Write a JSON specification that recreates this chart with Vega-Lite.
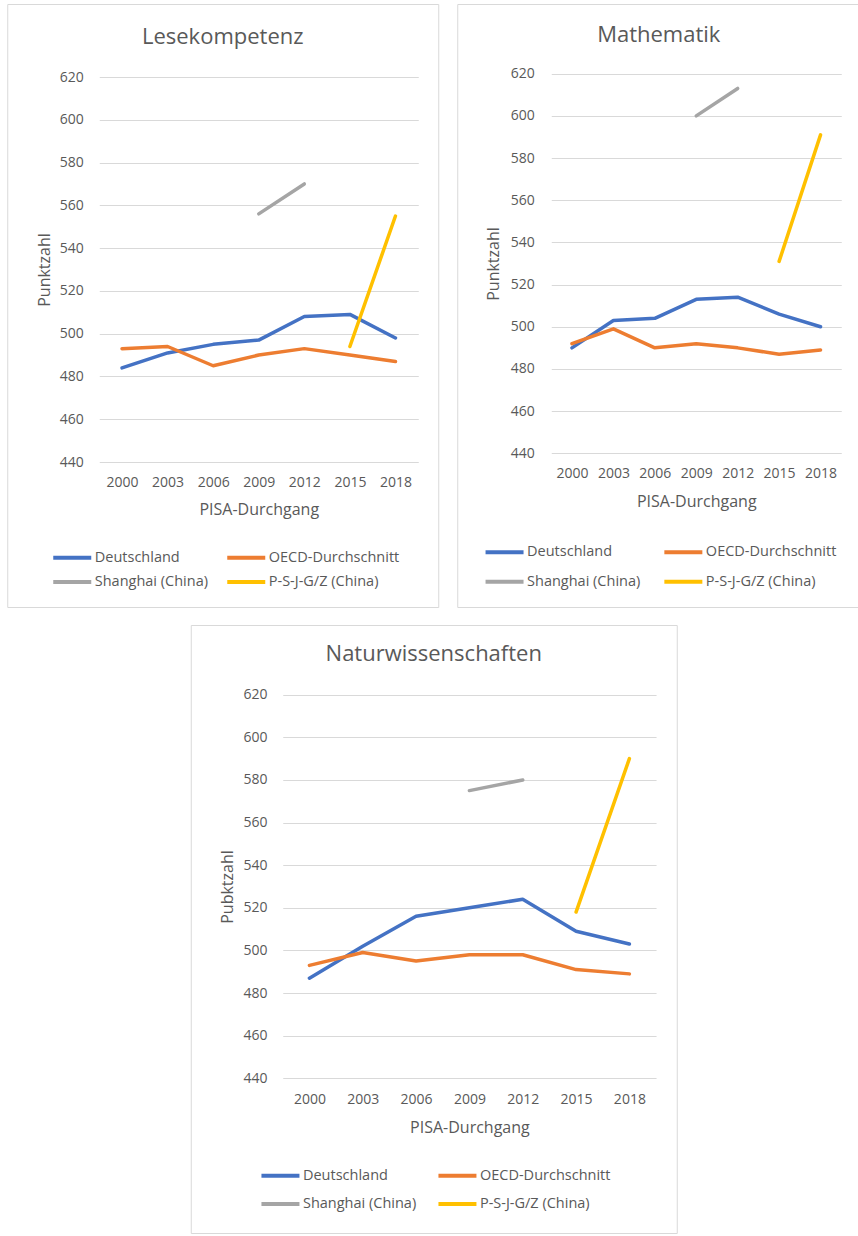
{
  "$schema": "https://vega.github.io/schema/vega-lite/v6.json",
  "padding": {"left": 6, "top": 3, "right": 0, "bottom": 0},
  "background": "white",
  "data": {"values": [
    {"fach": "Lesekompetenz", "jahr": "2000", "land": "Deutschland", "wert": 484},
    {"fach": "Lesekompetenz", "jahr": "2003", "land": "Deutschland", "wert": 491},
    {"fach": "Lesekompetenz", "jahr": "2006", "land": "Deutschland", "wert": 495},
    {"fach": "Lesekompetenz", "jahr": "2009", "land": "Deutschland", "wert": 497},
    {"fach": "Lesekompetenz", "jahr": "2012", "land": "Deutschland", "wert": 508},
    {"fach": "Lesekompetenz", "jahr": "2015", "land": "Deutschland", "wert": 509},
    {"fach": "Lesekompetenz", "jahr": "2018", "land": "Deutschland", "wert": 498},
    {"fach": "Lesekompetenz", "jahr": "2000", "land": "OECD-Durchschnitt", "wert": 493},
    {"fach": "Lesekompetenz", "jahr": "2003", "land": "OECD-Durchschnitt", "wert": 494},
    {"fach": "Lesekompetenz", "jahr": "2006", "land": "OECD-Durchschnitt", "wert": 485},
    {"fach": "Lesekompetenz", "jahr": "2009", "land": "OECD-Durchschnitt", "wert": 490},
    {"fach": "Lesekompetenz", "jahr": "2012", "land": "OECD-Durchschnitt", "wert": 493},
    {"fach": "Lesekompetenz", "jahr": "2015", "land": "OECD-Durchschnitt", "wert": 490},
    {"fach": "Lesekompetenz", "jahr": "2018", "land": "OECD-Durchschnitt", "wert": 487},
    {"fach": "Lesekompetenz", "jahr": "2009", "land": "Shanghai (China)", "wert": 556},
    {"fach": "Lesekompetenz", "jahr": "2012", "land": "Shanghai (China)", "wert": 570},
    {"fach": "Lesekompetenz", "jahr": "2015", "land": "P-S-J-G/Z (China)", "wert": 494},
    {"fach": "Lesekompetenz", "jahr": "2018", "land": "P-S-J-G/Z (China)", "wert": 555},
    {"fach": "Mathematik", "jahr": "2000", "land": "Deutschland", "wert": 490},
    {"fach": "Mathematik", "jahr": "2003", "land": "Deutschland", "wert": 503},
    {"fach": "Mathematik", "jahr": "2006", "land": "Deutschland", "wert": 504},
    {"fach": "Mathematik", "jahr": "2009", "land": "Deutschland", "wert": 513},
    {"fach": "Mathematik", "jahr": "2012", "land": "Deutschland", "wert": 514},
    {"fach": "Mathematik", "jahr": "2015", "land": "Deutschland", "wert": 506},
    {"fach": "Mathematik", "jahr": "2018", "land": "Deutschland", "wert": 500},
    {"fach": "Mathematik", "jahr": "2000", "land": "OECD-Durchschnitt", "wert": 492},
    {"fach": "Mathematik", "jahr": "2003", "land": "OECD-Durchschnitt", "wert": 499},
    {"fach": "Mathematik", "jahr": "2006", "land": "OECD-Durchschnitt", "wert": 490},
    {"fach": "Mathematik", "jahr": "2009", "land": "OECD-Durchschnitt", "wert": 492},
    {"fach": "Mathematik", "jahr": "2012", "land": "OECD-Durchschnitt", "wert": 490},
    {"fach": "Mathematik", "jahr": "2015", "land": "OECD-Durchschnitt", "wert": 487},
    {"fach": "Mathematik", "jahr": "2018", "land": "OECD-Durchschnitt", "wert": 489},
    {"fach": "Mathematik", "jahr": "2009", "land": "Shanghai (China)", "wert": 600},
    {"fach": "Mathematik", "jahr": "2012", "land": "Shanghai (China)", "wert": 613},
    {"fach": "Mathematik", "jahr": "2015", "land": "P-S-J-G/Z (China)", "wert": 531},
    {"fach": "Mathematik", "jahr": "2018", "land": "P-S-J-G/Z (China)", "wert": 591},
    {"fach": "Naturwissenschaften", "jahr": "2000", "land": "Deutschland", "wert": 487},
    {"fach": "Naturwissenschaften", "jahr": "2003", "land": "Deutschland", "wert": 502},
    {"fach": "Naturwissenschaften", "jahr": "2006", "land": "Deutschland", "wert": 516},
    {"fach": "Naturwissenschaften", "jahr": "2009", "land": "Deutschland", "wert": 520},
    {"fach": "Naturwissenschaften", "jahr": "2012", "land": "Deutschland", "wert": 524},
    {"fach": "Naturwissenschaften", "jahr": "2015", "land": "Deutschland", "wert": 509},
    {"fach": "Naturwissenschaften", "jahr": "2018", "land": "Deutschland", "wert": 503},
    {"fach": "Naturwissenschaften", "jahr": "2000", "land": "OECD-Durchschnitt", "wert": 493},
    {"fach": "Naturwissenschaften", "jahr": "2003", "land": "OECD-Durchschnitt", "wert": 499},
    {"fach": "Naturwissenschaften", "jahr": "2006", "land": "OECD-Durchschnitt", "wert": 495},
    {"fach": "Naturwissenschaften", "jahr": "2009", "land": "OECD-Durchschnitt", "wert": 498},
    {"fach": "Naturwissenschaften", "jahr": "2012", "land": "OECD-Durchschnitt", "wert": 498},
    {"fach": "Naturwissenschaften", "jahr": "2015", "land": "OECD-Durchschnitt", "wert": 491},
    {"fach": "Naturwissenschaften", "jahr": "2018", "land": "OECD-Durchschnitt", "wert": 489},
    {"fach": "Naturwissenschaften", "jahr": "2009", "land": "Shanghai (China)", "wert": 575},
    {"fach": "Naturwissenschaften", "jahr": "2012", "land": "Shanghai (China)", "wert": 580},
    {"fach": "Naturwissenschaften", "jahr": "2015", "land": "P-S-J-G/Z (China)", "wert": 518},
    {"fach": "Naturwissenschaften", "jahr": "2018", "land": "P-S-J-G/Z (China)", "wert": 590}
  ]},
  "spacing": 16,
  "center": true,
  "resolve": {"legend": {"color": "independent"}, "scale": {"x": "independent", "y": "independent", "color": "independent"}},
  "vconcat": [
    {
      "spacing": 17,
      "resolve": {"legend": {"color": "independent"}, "scale": {"x": "independent", "y": "independent", "color": "independent"}},
      "hconcat": [
        {
          "width": 431, "height": 603,
          "title": {"text": "Lesekompetenz", "offset": -45},
          "transform": [{"filter": "datum.fach === 'Lesekompetenz'"}],
          "mark": {"type": "line", "strokeWidth": 3.5, "strokeCap": "round", "strokeJoin": "round"},
          "encoding": {
            "x": {"field": "jahr", "type": "ordinal", "scale": {"type": "point", "range": [92, 411], "padding": 0.5},
                  "axis": {"title": "PISA-Durchgang", "offset": -136, "titlePadding": 12}},
            "y": {"field": "wert", "type": "quantitative", "scale": {"domain": [440, 620], "range": [458, 73], "nice": false, "zero": false},
                  "axis": {"title": "Punktzahl", "offset": -78, "titlePadding": 7, "values": [440, 460, 480, 500, 520, 540, 560, 580, 600, 620]}},
            "color": {"field": "land", "type": "nominal",
                      "scale": {"domain": ["Deutschland", "OECD-Durchschnitt", "Shanghai (China)", "P-S-J-G/Z (China)"], "range": ["#4472C4", "#ED7D31", "#A5A5A5", "#FFC000"]},
                      "legend": {"title": null, "orient": "none", "direction": "horizontal", "legendX": 44, "legendY": 542, "columns": 2, "columnPadding": 11, "rowPadding": 4.5, "symbolType": "M-1,0H3", "symbolSize": 361, "symbolStrokeWidth": 4, "labelOffset": 20.5}}
          }
        },
        {
          "width": 403, "height": 603,
          "title": {"text": "Mathematik", "offset": -43},
          "transform": [{"filter": "datum.fach === 'Mathematik'"}],
          "mark": {"type": "line", "strokeWidth": 3.5, "strokeCap": "round", "strokeJoin": "round"},
          "encoding": {
            "x": {"field": "jahr", "type": "ordinal", "scale": {"type": "point", "range": [94, 384], "padding": 0.5},
                  "axis": {"title": "PISA-Durchgang", "offset": -145, "titlePadding": 13.5}},
            "y": {"field": "wert", "type": "quantitative", "scale": {"domain": [440, 620], "range": [449.3, 69.7], "nice": false, "zero": false},
                  "axis": {"title": "Punktzahl", "offset": -79, "titlePadding": 8.5, "values": [440, 460, 480, 500, 520, 540, 560, 580, 600, 620]}},
            "color": {"field": "land", "type": "nominal",
                      "scale": {"domain": ["Deutschland", "OECD-Durchschnitt", "Shanghai (China)", "P-S-J-G/Z (China)"], "range": ["#4472C4", "#ED7D31", "#A5A5A5", "#FFC000"]},
                      "legend": {"title": null, "orient": "none", "direction": "horizontal", "legendX": 26.3, "legendY": 536.5, "columns": 2, "columnPadding": 15.8, "rowPadding": 9.7, "symbolType": "M-1,0H3", "symbolSize": 361, "symbolStrokeWidth": 4, "labelOffset": 20.5}}
          }
        }
      ]
    },
    {
      "width": 486, "height": 608,
      "title": {"text": "Naturwissenschaften", "offset": -41},
      "transform": [{"filter": "datum.fach === 'Naturwissenschaften'"}],
      "mark": {"type": "line", "strokeWidth": 3.5, "strokeCap": "round", "strokeJoin": "round"},
      "encoding": {
        "x": {"field": "jahr", "type": "ordinal", "scale": {"type": "point", "range": [92, 465.3], "padding": 0.5},
              "axis": {"title": "PISA-Durchgang", "offset": -145, "titlePadding": 13.4}},
        "y": {"field": "wert", "type": "quantitative", "scale": {"domain": [440, 620], "range": [453.3, 69.7], "nice": false, "zero": false},
              "axis": {"title": "Pubktzahl", "offset": -78.3, "titlePadding": 7.6, "values": [440, 460, 480, 500, 520, 540, 560, 580, 600, 620]}},
        "color": {"field": "land", "type": "nominal",
                  "scale": {"domain": ["Deutschland", "OECD-Durchschnitt", "Shanghai (China)", "P-S-J-G/Z (China)"], "range": ["#4472C4", "#ED7D31", "#A5A5A5", "#FFC000"]},
                  "legend": {"title": null, "orient": "none", "direction": "horizontal", "legendX": 68.7, "legendY": 539, "columns": 2, "columnPadding": 14, "rowPadding": 8.6, "symbolType": "M-1,0H3", "symbolSize": 361, "symbolStrokeWidth": 4, "labelOffset": 20.5}}
      }
    }
  ],
  "config": {
    "view": {"stroke": "#D9D9D9", "strokeWidth": 1},
    "font": "Open Sans",
    "title": {"font": "Open Sans", "fontSize": 22, "fontWeight": "normal", "color": "#595959", "anchor": "middle", "baseline": "alphabetic", "frame": "group"},
    "axis": {"labelFont": "Open Sans", "labelFontSize": 14, "labelColor": "#595959", "titleFont": "Open Sans", "titleFontSize": 16, "titleFontWeight": "normal", "titleColor": "#595959", "domain": false, "ticks": false, "tickSize": 0, "labelPadding": 4, "gridColor": "#D9D9D9", "gridWidth": 1, "labelOverlap": false},
    "axisX": {"grid": false, "labelAngle": 0},
    "axisY": {"grid": true, "labelPadding": 2},
    "legend": {"labelFont": "Open Sans", "labelFontSize": 14.5, "labelColor": "#595959", "padding": 0, "labelLimit": 300}
  }
}
